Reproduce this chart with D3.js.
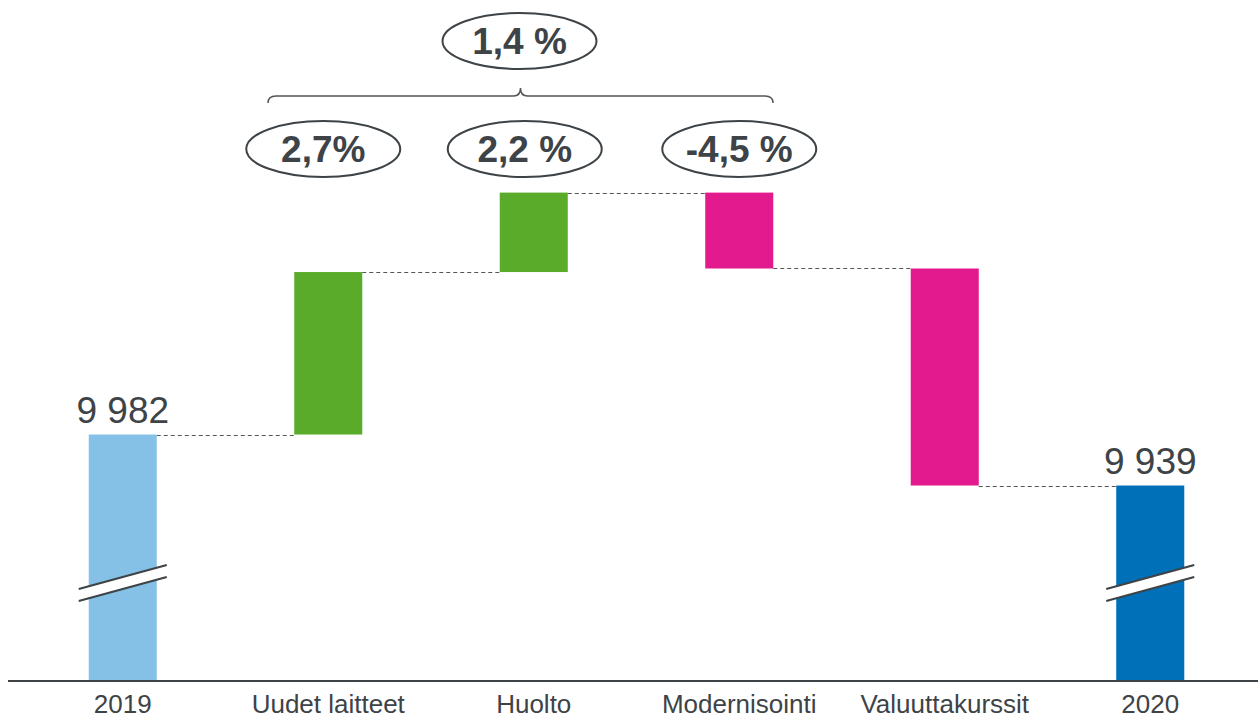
<!DOCTYPE html>
<html>
<head>
<meta charset="utf-8">
<script src="https://cdn.jsdelivr.net/npm/d3@7"></script>
<style>
  body { margin: 0; background: #fff; }
  text { font-family: "Liberation Sans", Arial, sans-serif; }
</style>
</head>
<body>
<div id="chart"></div>
<script>
// categories and values (MEUR)
const categories = ["2019", "Uudet laitteet", "Huolto", "Modernisointi", "Valuuttakurssit", "2020"];
const startValue = 9982;
const endValue = 9939;
const deltas = [137, 67, -64, -183];
const startLabel = "9 982";
const endLabel = "9 939";
const pctLabels = ["2,7%", "2,2 %", "-4,5 %"];
const totalPct = "1,4 %";

const width = 1258, height = 719;
const baseY = 680;
const textColor = "#3d4347";

const svg = d3.select("#chart").append("svg")
  .attr("width", width)
  .attr("height", height);

const x = d3.scaleBand()
  .domain(categories)
  .range([20, 1253])
  .paddingInner(0.669)
  .paddingOuter(0.3345);

// broken axis: only the top part of the scale is shown
const y = d3.scaleLinear()
  .domain([9775, 10200])
  .range([baseY, 176]);

// build waterfall steps
let bars = [];
bars.push({ cat: categories[0], y0: y.domain()[0], y1: startValue, color: "#85c1e6" });
let running = startValue;
deltas.forEach((d, i) => {
  bars.push({ cat: categories[i + 1], y0: running, y1: running + d, color: d >= 0 ? "#5aab2a" : "#e31a8e" });
  running += d;
});
bars.push({ cat: categories[5], y0: y.domain()[0], y1: endValue, color: "#0070b8" });

// dashed connectors
for (let i = 0; i < bars.length - 1; i++) {
  const lvl = bars[i].y1;
  svg.append("line")
    .attr("x1", x(bars[i].cat) + x.bandwidth())
    .attr("x2", x(bars[i + 1].cat))
    .attr("y1", Math.round(y(lvl)) + 0.5)
    .attr("y2", Math.round(y(lvl)) + 0.5)
    .attr("stroke", "#555")
    .attr("stroke-width", 1)
    .attr("stroke-dasharray", "4,3");
}

svg.selectAll("rect.bar").data(bars)
  .enter()
  .append("rect")
  .attr("class", "bar")
  .attr("x", d => x(d.cat))
  .attr("width", x.bandwidth())
  .attr("y", d => y(Math.max(d.y0, d.y1)))
  .attr("height", d => Math.abs(y(d.y0) - y(d.y1)))
  .attr("fill", d => d.color);

// break marks on first and last bar
[categories[0], categories[5]].forEach(c => {
  const cx = x(c) + x.bandwidth() / 2;
  const yb = 583;
  const dx = 44, dy = 12, gap = 6;
  svg.append("polygon")
    .attr("points", [
      [cx - dx, yb + dy - gap], [cx + dx, yb - dy - gap],
      [cx + dx, yb - dy + gap], [cx - dx, yb + dy + gap]
    ].map(p => p.join(",")).join(" "))
    .attr("fill", "#fff");
  [-gap, gap].forEach(o => {
    svg.append("line")
      .attr("x1", cx - dx).attr("y1", yb + dy + o)
      .attr("x2", cx + dx).attr("y2", yb - dy + o)
      .attr("stroke", textColor)
      .attr("stroke-width", 2.2);
  });
});

// baseline
svg.append("line")
  .attr("x1", 8).attr("x2", width)
  .attr("y1", baseY + 1).attr("y2", baseY + 1)
  .attr("stroke", "#3d4347")
  .attr("stroke-width", 2);

// category labels
svg.selectAll("text.cat").data(categories)
  .enter()
  .append("text")
  .attr("class", "cat")
  .attr("x", d => x(d) + x.bandwidth() / 2)
  .attr("y", 713)
  .attr("text-anchor", "middle")
  .attr("font-size", 26)
  .attr("fill", textColor)
  .text(d => d);

// start / end value labels
svg.append("text")
  .attr("x", x(categories[0]) + x.bandwidth() / 2)
  .attr("y", y(startValue) - 12)
  .attr("text-anchor", "middle")
  .attr("font-size", 37)
  .attr("fill", textColor)
  .text(startLabel);
svg.append("text")
  .attr("x", x(categories[5]) + x.bandwidth() / 2)
  .attr("y", y(endValue) - 12)
  .attr("text-anchor", "middle")
  .attr("font-size", 37)
  .attr("fill", textColor)
  .text(endLabel);

// percentage ellipses
function bubble(cx, cy, label) {
  svg.append("ellipse")
    .attr("cx", cx).attr("cy", cy)
    .attr("rx", 77).attr("ry", 28)
    .attr("fill", "#fff")
    .attr("stroke", textColor)
    .attr("stroke-width", 2);
  svg.append("text")
    .attr("x", cx).attr("y", cy + 13)
    .attr("text-anchor", "middle")
    .attr("font-size", 37)
    .attr("font-weight", "bold")
    .attr("fill", textColor)
    .text(label);
}
const offsets = [-5, -9, 0];
pctLabels.forEach((p, i) => {
  const c = categories[i + 1];
  bubble(x(c) + x.bandwidth() / 2 + offsets[i], 149, p);
});

// brace over the three business lines
const bx0 = 268, bx1 = 773;
const bm = (bx0 + bx1) / 2;
const by = 96;
svg.append("path")
  .attr("d", `M${bx0},103 Q${bx0},${by} ${bx0 + 8},${by} L${bm - 7},${by} Q${bm},${by} ${bm},88 Q${bm},${by} ${bm + 7},${by} L${bx1 - 8},${by} Q${bx1},${by} ${bx1},103`)
  .attr("fill", "none")
  .attr("stroke", "#555")
  .attr("stroke-width", 1.5);

bubble(bm - 1, 41, totalPct);
</script>
</body>
</html>
